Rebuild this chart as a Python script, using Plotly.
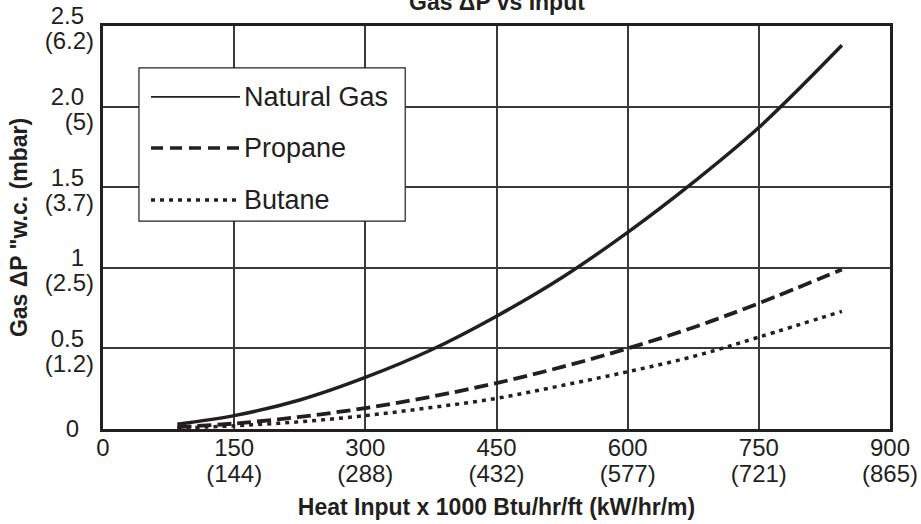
import plotly.graph_objects as go

# ---- data ----
heat_input = [85, 150, 225, 300, 375, 450, 525, 600, 675, 750, 845]
natural_gas = [0.03, 0.083, 0.18, 0.32, 0.49, 0.70, 0.94, 1.22, 1.53, 1.87, 2.38]
propane = [0.012, 0.034, 0.075, 0.13, 0.20, 0.285, 0.385, 0.50, 0.63, 0.78, 0.99]
butane = [0.006, 0.02, 0.045, 0.083, 0.133, 0.19, 0.27, 0.355, 0.45, 0.57, 0.73]

x_ticks = [0, 150, 300, 450, 600, 750, 900]
x_top_labels = ["0", "150", "300", "450", "600", "750", "900"]
x_metric_ticks = [150, 300, 450, 600, 750, 900]
x_metric_labels = ["(144)", "(288)", "(432)", "(577)", "(721)", "(865)"]

y_ticks = [0.5, 1.0, 1.5, 2.0, 2.5]
y_top_labels = ["0.5", "1", "1.5", "2.0", "2.5"]
y_metric_labels = ["(1.2)", "(2.5)", "(3.7)", "(5)", "(6.2)"]

INK = "#231f20"
FONT = "Liberation Sans, Arial, Helvetica, sans-serif"

fig = go.Figure()
fig.add_trace(go.Scatter(x=heat_input, y=natural_gas, mode="lines", name="Natural Gas",
                         line=dict(color=INK, width=3.5, shape="spline"), showlegend=False))
fig.add_trace(go.Scatter(x=heat_input, y=propane, mode="lines", name="Propane",
                         line=dict(color=INK, width=3.8, dash="14px,6px", shape="spline"), showlegend=False))
fig.add_trace(go.Scatter(x=heat_input, y=butane, mode="lines", name="Butane",
                         line=dict(color=INK, width=3.5, dash="4px,5px", shape="spline"), showlegend=False))
# invisible helper traces for overlay axes
fig.add_trace(go.Scatter(x=[None], y=[None], xaxis="x2", yaxis="y", showlegend=False, hoverinfo="skip"))
fig.add_trace(go.Scatter(x=[None], y=[None], xaxis="x", yaxis="y2", showlegend=False, hoverinfo="skip"))
fig.add_trace(go.Scatter(x=[None], y=[None], xaxis="x", yaxis="y3", showlegend=False, hoverinfo="skip"))

tickfont = dict(family=FONT, size=24, color=INK)

fig.update_layout(
    width=921, height=524,
    margin=dict(l=103, r=31, t=26, b=95, autoexpand=False),
    paper_bgcolor="white", plot_bgcolor="white",
    font=dict(family=FONT, color=INK),
    xaxis=dict(range=[0, 900], tickmode="array", tickvals=x_ticks, ticktext=x_top_labels,
               showgrid=True, gridcolor="#3a3a3a", gridwidth=1.5,
               showline=True, linecolor=INK, linewidth=3, mirror=True, automargin=False,
               ticks="", tickfont=tickfont, ticklabelstandoff=-5, zeroline=False,
               title=dict(text="<b>Heat Input x 1000 Btu/hr/ft (kW/hr/m)</b>",
                          font=dict(family=FONT, size=23, color=INK), standoff=40)),
    xaxis2=dict(range=[0, 900], overlaying="x", anchor="y", side="bottom", automargin=False,
                tickmode="array", tickvals=x_metric_ticks, ticktext=x_metric_labels,
                showgrid=False, showline=False, ticks="", tickfont=tickfont,
                ticklabelstandoff=28, zeroline=False),
    yaxis=dict(range=[0, 2.5], tickmode="array", tickvals=[0] + y_ticks,
               ticktext=["0", "", "", "", "", ""], automargin=False,
               showgrid=True, gridcolor="#3a3a3a", gridwidth=1.5,
               showline=True, linecolor=INK, linewidth=3, mirror=True,
               ticks="", tickfont=tickfont, ticklabelstandoff=16, zeroline=False,
               title=dict(text='<b>Gas ΔP "w.c. (mbar)</b>',
                          font=dict(family=FONT, size=23, color=INK), standoff=32)),
    yaxis2=dict(range=[0, 2.5], overlaying="y", anchor="x", side="left", automargin=False,
                tickmode="array", tickvals=y_ticks, ticktext=y_top_labels,
                showgrid=False, showline=False, ticks="", tickfont=tickfont,
                ticklabelstandoff=18, ticklabelshift=-10, zeroline=False),
    yaxis3=dict(range=[0, 2.5], overlaying="y", anchor="x", side="left", automargin=False,
                tickmode="array", tickvals=y_ticks, ticktext=y_metric_labels,
                showgrid=False, showline=False, ticks="", tickfont=tickfont,
                ticklabelstandoff=8, ticklabelshift=15, zeroline=False),
)

# title (partly cropped at top, as in reference)
fig.add_annotation(text="<b>Gas ΔP vs Input</b>", xref="paper", yref="paper", x=0.5, y=1,
                   xanchor="center", yanchor="middle", yshift=24, showarrow=False,
                   font=dict(family=FONT, size=23, color=INK))

# manual legend box
lx0, lx1, ly0, ly1 = 0.0457, 0.384, 0.516, 0.896
fig.add_shape(type="rect", xref="paper", yref="paper", x0=lx0, x1=lx1, y0=ly0, y1=ly1,
              line=dict(color=INK, width=1.2), fillcolor="white", layer="above")
legend_items = [("Natural Gas", "solid", 1.8, 0.824),
                ("Propane", "12px,7px", 3.5, 0.697),
                ("Butane", "4px,5px", 3.5, 0.568)]
for name, dash, w, yy in legend_items:
    fig.add_shape(type="line", xref="paper", yref="paper", x0=0.061, x1=0.174, y0=yy, y1=yy,
                  line=dict(color=INK, width=w, dash=dash), layer="above")
    fig.add_annotation(text=name, xref="paper", yref="paper", x=0.176, y=yy,
                       xanchor="left", yanchor="middle", showarrow=False,
                       font=dict(family=FONT, size=27, color=INK))

fig.write_html("out.html", config={"displayModeBar": False},
               post_script="document.body.style.margin='0';")
